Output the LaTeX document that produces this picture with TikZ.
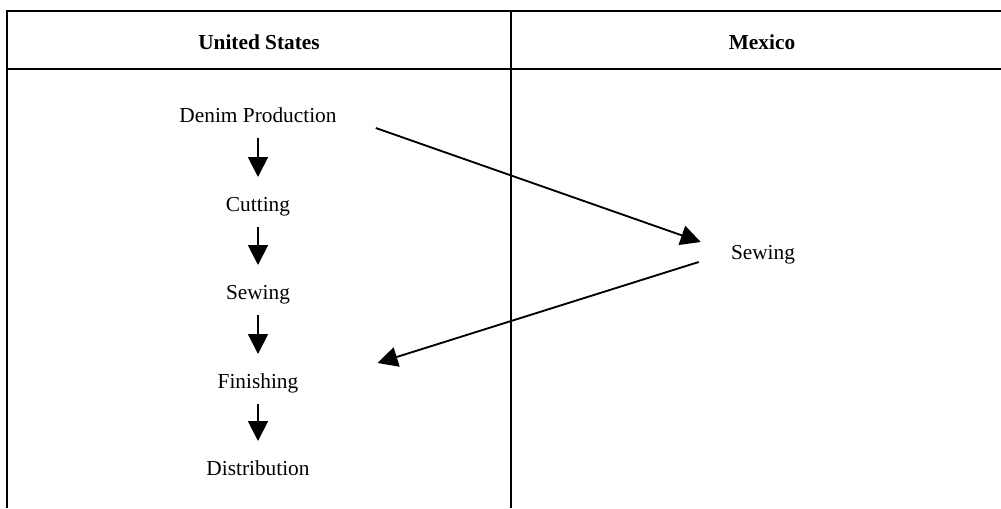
\documentclass[tikz,border=0pt]{standalone}
\usepackage{fontspec}
\setmainfont{Liberation Serif}
\usetikzlibrary{calc,arrows.meta}
\begin{document}
\begin{tikzpicture}[x=0.75pt,y=-0.75pt,
  lbl/.style={anchor=base,inner sep=0pt,font=\fontsize{16}{19}\selectfont},
  hdr/.style={anchor=base,inner sep=0pt,font=\fontsize{16}{19}\selectfont\bfseries},
  rule/.style={line width=1.9pt},
  downarr/.style={line width=1.4pt,-{Triangle[length=15pt,width=15pt]},shorten <=12pt,shorten >=25.5pt},
  bigarr/.style={line width=1.4pt,-{Triangle[length=15pt,width=15pt]}}]
\useasboundingbox (0,0) rectangle (1001,508);
\fill[white] (0,0) rectangle (1001,508);
% table
\draw[rule] (7,11) -- (1001,11);
\draw[rule] (7,69) -- (1001,69);
\draw[rule] (7,10) -- (7,508);
\draw[rule] (511,11) -- (511,508);
% headers
\node[hdr] (us) at (259,49) {United States};
\node[hdr] (mx) at (762,49) {Mexico};
% US column
\node[lbl] (dp) at (258,122) {Denim Production};
\node[lbl] (cut) at (258,211) {Cutting};
\node[lbl] (sew) at (258,299) {Sewing};
\node[lbl] (fin) at (258,388) {Finishing};
\node[lbl] (dist) at (258,475) {Distribution};
% Mexico column
\node[lbl] (msew) at (763,259) {Sewing};
% vertical arrows
\draw[downarr] (dp.base) -- (cut.base);
\draw[downarr] (cut.base) -- (sew.base);
\draw[downarr] (sew.base) -- (fin.base);
\draw[downarr] (fin.base) -- (dist.base);
% cross arrows
\draw[bigarr] ($(dp.base east)+(39,6)$) -- ($(msew.base west)+(-30,-17)$);
\draw[bigarr] ($(msew.base west)+(-32,3)$) -- ($(fin.base east)+(79,-25)$);
\end{tikzpicture}
\end{document}
